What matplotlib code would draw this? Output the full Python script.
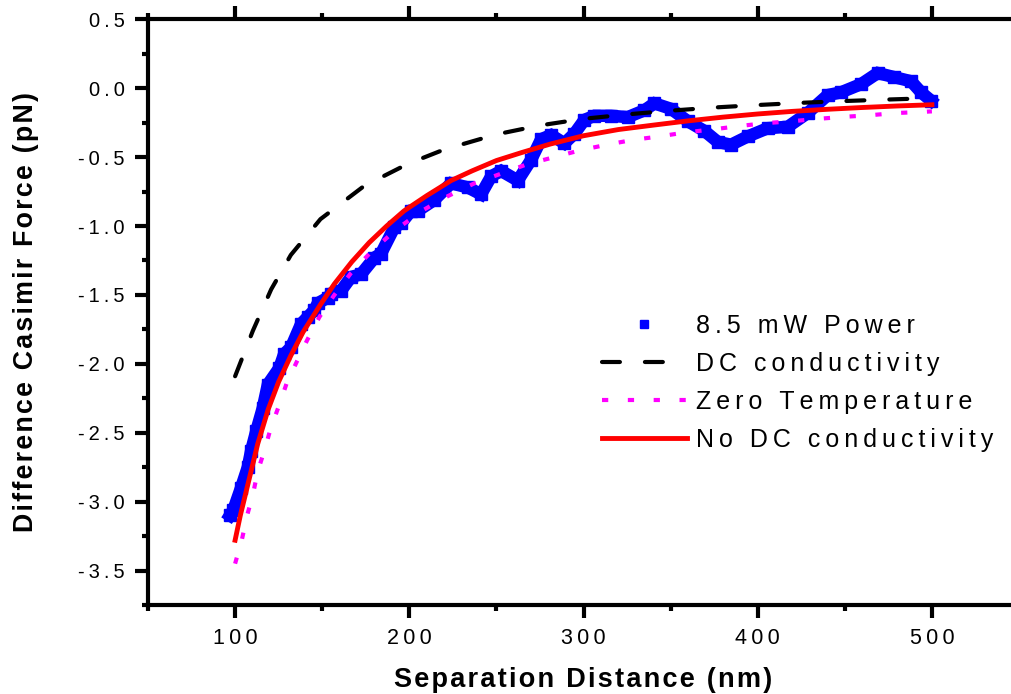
import matplotlib
matplotlib.use('Agg')
import matplotlib.pyplot as plt
from matplotlib.lines import Line2D
from matplotlib.ticker import MultipleLocator, FuncFormatter

# measured difference force, 8.5 mW
power_x = [97, 99, 103.4, 107.3, 109.2, 112.1, 115.9, 118.8, 125.4, 128.1, 132.1, 137.9, 141.7,
           145.5, 147.5, 153.2, 155.1, 160.8, 166.6, 172.3, 180.0, 183.8, 191.4, 195.3, 201.0,
           204.9, 214.4, 224.0, 233.6, 241.2, 247.0, 252.7, 262.3, 269.9, 275.7, 281.4, 289.0,
           294.8, 300.5, 306.3, 315.8, 325.4, 335.0, 340.7, 350.3, 359.9, 369.4, 377.1, 384.7,
           394.3, 405.8, 417.3, 428.7, 440.2, 447.8, 459.4, 468.9, 478.5, 488.1, 493.8, 499.5]
power_y = [-3.10, -3.06, -2.90, -2.75, -2.63, -2.49, -2.32, -2.15, -2.03, -1.93, -1.88, -1.71, -1.66,
           -1.61, -1.56, -1.52, -1.49, -1.47, -1.37, -1.35, -1.23, -1.20, -1.01, -0.98, -0.89,
           -0.89, -0.81, -0.69, -0.72, -0.77, -0.64, -0.60, -0.67, -0.52, -0.37, -0.34, -0.40,
           -0.33, -0.23, -0.20, -0.20, -0.21, -0.16, -0.11, -0.15, -0.24, -0.31, -0.39, -0.41,
           -0.35, -0.29, -0.28, -0.18, -0.05, -0.03, 0.03, 0.11, 0.08, 0.05, -0.03, -0.09]

# theory curves
dc_x = [100, 103.4, 110.2, 120.7, 132, 149, 174, 199, 220, 250, 275, 300, 325, 350, 375, 400, 425, 450, 475, 500]
dc_y = [-2.09, -1.98, -1.76, -1.46, -1.21, -0.95, -0.71, -0.55, -0.445, -0.335, -0.27, -0.222, -0.19,
        -0.163, -0.14, -0.122, -0.106, -0.093, -0.082, -0.072]

zero_x = [100, 104, 106.9, 110.2, 113, 116.8, 120.5, 125, 129.5, 135.4, 141.3, 148.4, 156.7, 166.6,
          177.9, 192.4, 207.2, 222.3, 237.4, 252.7, 268, 283.3, 298.2, 313.4, 328.3, 343.6, 358.9,
          373.6, 388.6, 403.9, 419.2, 434.1, 449.2, 464.5, 479.5, 494.7, 500]
zero_y = [-3.45, -3.27, -3.10, -2.95, -2.78, -2.63, -2.465, -2.31, -2.145, -1.985, -1.83, -1.66,
          -1.505, -1.34, -1.19, -1.026, -0.89, -0.782, -0.69, -0.62, -0.55, -0.50, -0.45, -0.41,
          -0.375, -0.35, -0.32, -0.30, -0.276, -0.254, -0.24, -0.223, -0.208, -0.196, -0.18,
          -0.172, -0.168]

nodc_x = [100, 103, 108, 113, 119, 125, 132, 139, 149, 157, 167, 177, 187, 197, 210, 224, 236, 250,
          265, 281, 300, 320, 340, 360, 380, 400, 420, 440, 460, 480, 500]
nodc_y = [-3.28, -3.10, -2.84, -2.58, -2.33, -2.13, -1.94, -1.77, -1.57, -1.42, -1.26, -1.12, -1.00,
          -0.89, -0.78, -0.67, -0.60, -0.525, -0.465, -0.405, -0.345, -0.30, -0.268, -0.237, -0.21,
          -0.187, -0.168, -0.153, -0.14, -0.129, -0.12]

FAM = ['Liberation Sans', 'DejaVu Sans']
plt.rcParams['font.family'] = FAM
THIN = '\u2009'
HAIR = '\u200a'


def spaced(s, sep=THIN):
    return sep.join(s)


fig = plt.figure(figsize=(10.11, 6.94), dpi=100)
ax = fig.add_axes([148 / 1011, 89 / 694, 871 / 1011, 585.7 / 694])

ax.plot(power_x, power_y, color='#0000FF', lw=9, marker='s', ms=8, solid_joinstyle='miter', zorder=2)
ax.plot(dc_x, dc_y, color='black', lw=3, ls=(0, (4.3, 6.0)), dash_capstyle='round', zorder=3)
ax.plot(zero_x, zero_y, color='#FF00FF', lw=3, ls=(0, (1.5, 4.7)), zorder=3)
ax.plot(nodc_x, nodc_y, color='#FF0000', lw=3.5, zorder=4)

ax.set_xlim(50, 550)
ax.set_ylim(-3.75, 0.5)

ax.spines['right'].set_visible(False)
for s in ['left', 'bottom', 'top']:
    ax.spines[s].set_linewidth(3)

ax.xaxis.set_major_locator(MultipleLocator(100))
ax.xaxis.set_minor_locator(MultipleLocator(50))
ax.yaxis.set_major_locator(MultipleLocator(0.5))
ax.yaxis.set_minor_locator(MultipleLocator(0.25))
ax.tick_params(which='both', direction='out', top=True, right=False, width=3)
ax.tick_params(which='major', length=9.5)
ax.tick_params(which='minor', length=4.5)
ax.tick_params(axis='x', which='major', pad=7, labelsize=15.5)
ax.tick_params(axis='y', which='major', pad=7.5, labelsize=14.5)

ax.xaxis.set_major_formatter(FuncFormatter(lambda v, p: spaced('%d' % round(v))))
ax.yaxis.set_major_formatter(FuncFormatter(lambda v, p: spaced('%.1f' % v)))

ax.set_xlabel(spaced('Separation Distance (nm)', HAIR), fontsize=19.5, fontweight='bold', labelpad=13)
ax.set_ylabel(spaced('Difference Casimir Force (pN)', HAIR), fontsize=19.3, fontweight='bold', labelpad=28)

handles = [
    Line2D([], [], color='#0000FF', marker='s', ls='none', ms=6),
    Line2D([], [], color='black', lw=3, ls=(0, (4.3, 6.0)), dash_capstyle='round'),
    Line2D([], [], color='#FF00FF', lw=3, ls=(0, (1.5, 4.7))),
    Line2D([], [], color='#FF0000', lw=3.5),
]
labels = ['8.5 mW Power', 'DC conductivity', 'Zero Temperature', 'No DC conductivity']
labels = [spaced(l) for l in labels]
ax.legend(handles, labels, loc='upper left', bbox_to_anchor=(0.521, 0.497), frameon=False,
          prop={'size': 18}, handlelength=3.4, handletextpad=0.36,
          labelspacing=0.56, borderpad=0, borderaxespad=0)

fig.savefig('out.png', dpi=100)
